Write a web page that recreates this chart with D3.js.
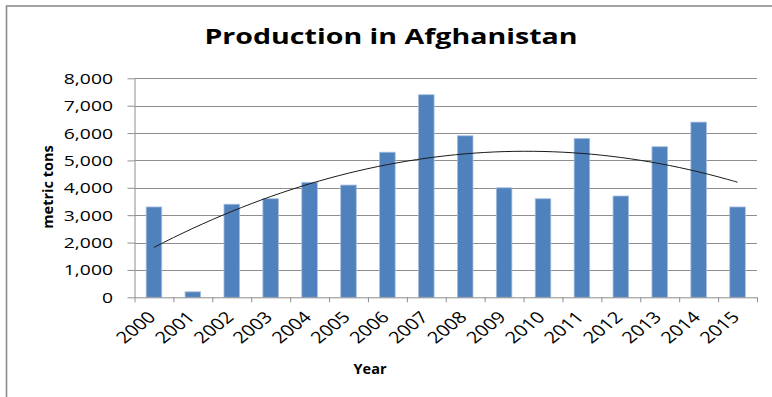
<!DOCTYPE html>
<html>
<head>
<meta charset="utf-8">
<script src="https://cdn.jsdelivr.net/npm/d3@7"></script>
<style>
  body { margin: 0; background: #fff; }
  svg { display: block; }
</style>
</head>
<body>
<svg id="chart" width="772" height="397"></svg>
<script>
// data
var years = ["2000", "2001", "2002", "2003", "2004", "2005", "2006", "2007",
             "2008", "2009", "2010", "2011", "2012", "2013", "2014", "2015"];
var production = [3300, 200, 3400, 3600, 4200, 4100, 5300, 7400,
                  5900, 4000, 3600, 5800, 3700, 5500, 6400, 3300];
var yTicks = [0, 1000, 2000, 3000, 4000, 5000, 6000, 7000, 8000];

var titleText = "Production in Afghanistan";
var yTitle = "metric tons";
var xTitle = "Year";

// plot box
var plotLeft = 134.5, plotRight = 757, plotTop = 78.3, plotBottom = 297.3;

var svg = d3.select("#chart");

// frame around the chart
svg.append("rect")
    .attr("x", 6.5)
    .attr("y", 6)
    .attr("width", 900)
    .attr("height", 500)
    .attr("fill", "none")
    .attr("stroke", "#8c8c8c")
    .attr("stroke-width", 1.6);

var x = d3.scaleBand()
    .domain(years)
    .range([plotLeft, plotRight])
    .paddingInner(0.6)
    .paddingOuter(0.3);

var slots = d3.scaleLinear()
    .domain([0, years.length])
    .range([plotLeft, plotRight]);

var y = d3.scaleLinear()
    .domain([0, 8000])
    .range([plotBottom, plotTop]);

// gridlines
svg.append("g")
    .selectAll("line")
    .data(yTicks.slice(1))
    .join("line")
    .attr("x1", plotLeft)
    .attr("x2", plotRight)
    .attr("y1", function (d) { return Math.round(y(d)) + 0.5; })
    .attr("y2", function (d) { return Math.round(y(d)) + 0.5; })
    .attr("stroke", "#8e8e8e")
    .attr("stroke-width", 1);

// bars
svg.append("g")
    .selectAll("rect")
    .data(production)
    .join("rect")
    .attr("x", function (d, i) { return x(years[i]); })
    .attr("y", function (d) { return y(d); })
    .attr("width", x.bandwidth())
    .attr("height", function (d) { return y(0) - y(d); })
    .attr("fill", "#4f81bd")
    .attr("stroke", "#a7bedf")
    .attr("stroke-width", 0.8);

// y axis
var yAxis = svg.append("g")
    .attr("transform", "translate(" + plotLeft + ",0)")
    .call(d3.axisLeft(y).tickValues(yTicks).tickSize(7).tickSizeOuter(0).tickFormat(d3.format(",")));
yAxis.select(".domain").attr("stroke", "#8e8e8e");
yAxis.selectAll(".tick line").attr("stroke", "#8e8e8e");
yAxis.selectAll(".tick text")
    .attr("x", 0)
    .attr("dy", "0.36em")
    .attr("transform", "translate(-21.5,0) scale(1.38,1)")
    .attr("fill", "#000")
    .style("font-family", "'Open Sans', sans-serif")
    .style("font-size", "14px");

// x axis: tick marks between categories
var xTicks = svg.append("g")
    .attr("transform", "translate(0," + plotBottom + ")")
    .call(d3.axisBottom(slots).tickValues(d3.range(years.length + 1)).tickSize(5).tickSizeOuter(0).tickFormat(""));
xTicks.select(".domain").attr("stroke", "#8e8e8e");
xTicks.selectAll(".tick line").attr("stroke", "#8e8e8e");

// x axis labels at category centres
var xLabels = svg.append("g")
    .attr("transform", "translate(0," + plotBottom + ")")
    .call(d3.axisBottom(x).tickSize(0));
xLabels.select(".domain").remove();
xLabels.selectAll(".tick text")
    .attr("x", 0)
    .attr("y", 0)
    .attr("dy", "0.35em")
    .attr("text-anchor", "end")
    .attr("transform", "translate(-2,17) scale(1.25,1) rotate(-45)")
    .attr("fill", "#000")
    .style("font-family", "'Open Sans', sans-serif")
    .style("font-size", "16px");

// polynomial (order 2) trendline, least squares on the bars
function quadFit(xs, ys) {
    var s = [0, 0, 0, 0, 0], t = [0, 0, 0];
    xs.forEach(function (xv, i) {
        for (var k = 0; k < 5; k++) s[k] += Math.pow(xv, k);
        for (var k2 = 0; k2 < 3; k2++) t[k2] += ys[i] * Math.pow(xv, k2);
    });
    var m = [[s[0], s[1], s[2], t[0]], [s[1], s[2], s[3], t[1]], [s[2], s[3], s[4], t[2]]];
    for (var c = 0; c < 3; c++) {
        for (var r = c + 1; r < 3; r++) {
            var f = m[r][c] / m[c][c];
            for (var j = c; j < 4; j++) m[r][j] -= f * m[c][j];
        }
    }
    var coef = [0, 0, 0];
    for (var r2 = 2; r2 >= 0; r2--) {
        var v = m[r2][3];
        for (var j2 = r2 + 1; j2 < 3; j2++) v -= m[r2][j2] * coef[j2];
        coef[r2] = v / m[r2][r2];
    }
    return coef;
}
var idx = years.map(function (d, i) { return i; });
var coef = quadFit(idx, production);
var trendPts = d3.range(0, years.length - 1 + 0.001, 0.25);
var line = d3.line()
    .x(function (d) { return slots(d + 0.5); })
    .y(function (d) { return y(coef[0] + coef[1] * d + coef[2] * d * d); })
    .curve(d3.curveBasis);
svg.append("path")
    .datum(trendPts)
    .attr("d", line)
    .attr("fill", "none")
    .attr("stroke", "#1a1a1a")
    .attr("stroke-width", 1);

// titles
svg.append("text")
    .attr("text-anchor", "middle")
    .attr("transform", "translate(391,43.5) scale(1.33,1)")
    .style("font-family", "'Open Sans', sans-serif")
    .style("font-weight", "bold")
    .style("font-size", "21.5px")
    .text(titleText);

svg.append("text")
    .attr("text-anchor", "middle")
    .attr("transform", "translate(52.5,187) rotate(-90)")
    .style("font-family", "'Open Sans', sans-serif")
    .style("font-weight", "bold")
    .style("font-size", "14.5px")
    .text(yTitle);

svg.append("text")
    .attr("text-anchor", "middle")
    .attr("x", 370)
    .attr("y", 374)
    .style("font-family", "'Open Sans', sans-serif")
    .style("font-weight", "bold")
    .style("font-size", "14.5px")
    .text(xTitle);
</script>
</body>
</html>
